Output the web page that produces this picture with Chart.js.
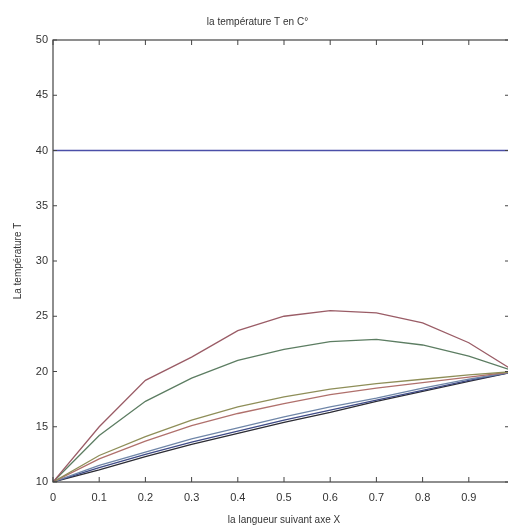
<!DOCTYPE html>
<html>
<head>
<meta charset="utf-8">
<script src="https://cdn.jsdelivr.net/npm/chart.js@4/dist/chart.umd.min.js"></script>
<style>
  html, body { margin: 0; padding: 0; overflow: hidden; background: #fff; }
  #wrap { width: 540px; height: 526px; }
</style>
</head>
<body>
<div id="wrap"><canvas id="tempChart" width="540" height="526" style="width:540px;height:526px"></canvas></div>
<script>
// abscisse (largeur suivant X)
const xs = [0, 0.1, 0.2, 0.3, 0.4, 0.5, 0.6, 0.7, 0.8, 0.9, 1.0];

// profils de temperature
const tInitial = [40, 40, 40, 40, 40, 40, 40, 40, 40, 40, 40];
const tCourbe1 = [10, 15.0, 19.2, 21.3, 23.7, 25.0, 25.5, 25.3, 24.4, 22.6, 20];
const tCourbe2 = [10, 14.2, 17.3, 19.4, 21.0, 22.0, 22.7, 22.9, 22.4, 21.4, 20];
const tCourbe3 = [10, 12.4, 14.1, 15.6, 16.8, 17.7, 18.4, 18.9, 19.3, 19.7, 20];
const tCourbe4 = [10, 12.1, 13.7, 15.1, 16.2, 17.1, 17.9, 18.5, 19.0, 19.5, 20];
const tCourbe5 = [10, 11.5, 12.7, 13.9, 14.9, 15.9, 16.8, 17.6, 18.5, 19.3, 20];
const tCourbe6 = [10, 11.3, 12.5, 13.6, 14.6, 15.6, 16.5, 17.4, 18.3, 19.2, 20];
const tCourbe7 = [10, 11.1, 12.3, 13.4, 14.4, 15.4, 16.3, 17.3, 18.2, 19.1, 20];

const xTicks = [0, 0.1, 0.2, 0.3, 0.4, 0.5, 0.6, 0.7, 0.8, 0.9];
const yTicks = [10, 15, 20, 25, 30, 35, 40, 45, 50];

function serie(vals, couleur) {
    return {
        data: xs.map((x, i) => ({ x: x, y: vals[i] })),
        borderColor: couleur,
        borderWidth: 1.3,
        pointRadius: 0,
        tension: 0,
        fill: false
    };
}

// cadre + graduations vers l'interieur (style Matlab)
const cadreMatlab = {
    id: 'cadreMatlab',
    afterDatasetsDraw(chart) {
        const { ctx, chartArea: a, scales } = chart;
        const sx = scales.x, sy = scales.y;
        ctx.save();
        ctx.strokeStyle = '#444';
        ctx.lineWidth = 1.2;
        ctx.strokeRect(a.left, a.top, a.right - a.left, a.bottom - a.top);
        ctx.lineWidth = 1;
        xTicks.forEach(v => {
            const px = sx.getPixelForValue(v);
            ctx.beginPath();
            ctx.moveTo(px, a.bottom); ctx.lineTo(px, a.bottom - 5);
            ctx.moveTo(px, a.top); ctx.lineTo(px, a.top + 5);
            ctx.stroke();
        });
        yTicks.forEach(v => {
            const py = sy.getPixelForValue(v);
            ctx.beginPath();
            ctx.moveTo(a.left, py); ctx.lineTo(a.left + 4, py);
            ctx.moveTo(a.right, py); ctx.lineTo(a.right - 10, py);
            ctx.stroke();
        });
        ctx.restore();
    }
};

const ctx = document.getElementById('tempChart').getContext('2d');
new Chart(ctx, {
    type: 'line',
    data: {
        datasets: [
            serie(tInitial, '#4b4fa8'),
            serie(tCourbe1, '#9a5c66'),
            serie(tCourbe2, '#5c7d62'),
            serie(tCourbe3, '#8e8e58'),
            serie(tCourbe4, '#b0706c'),
            serie(tCourbe5, '#6f86a8'),
            serie(tCourbe6, '#3e4a86'),
            serie(tCourbe7, '#2c2c34')
        ]
    },
    options: {
        responsive: false,
        animation: false,
        layout: { padding: { left: 0, right: 25, top: 0, bottom: 0 } },
        plugins: {
            legend: { display: false },
            tooltip: { enabled: false },
            title: {
                display: true,
                text: 'la température T en C°',
                color: '#333',
                font: { family: 'Liberation Sans', size: 10, weight: 'normal' },
                padding: { top: 16, bottom: 12 }
            }
        },
        scales: {
            x: {
                type: 'linear',
                min: 0,
                max: 1,
                grid: { display: false, drawTicks: false },
                border: { display: false },
                afterBuildTicks: s => { s.ticks = xTicks.map(v => ({ value: v })); },
                ticks: {
                    padding: 9,
                    color: '#333',
                    font: { family: 'Liberation Sans', size: 11 },
                    callback: v => String(Math.round(v * 10) / 10)
                },
                title: {
                    display: true,
                    text: 'la langueur suivant axe X',
                    color: '#333',
                    font: { family: 'Liberation Sans', size: 10 },
                    padding: { top: 0, bottom: 0 }
                },
                afterFit: s => { s.height = 44; }
            },
            y: {
                min: 10,
                max: 50,
                grid: { display: false, drawTicks: false },
                border: { display: false },
                afterBuildTicks: s => { s.ticks = yTicks.map(v => ({ value: v })); },
                ticks: {
                    padding: 5,
                    color: '#333',
                    font: { family: 'Liberation Sans', size: 11 }
                },
                title: {
                    display: true,
                    text: 'La température T',
                    color: '#333',
                    font: { family: 'Liberation Sans', size: 10 },
                    padding: { top: 12, bottom: 0 }
                },
                afterFit: s => { s.width = 53; }
            }
        }
    },
    plugins: [cadreMatlab]
});
</script>
</body>
</html>
